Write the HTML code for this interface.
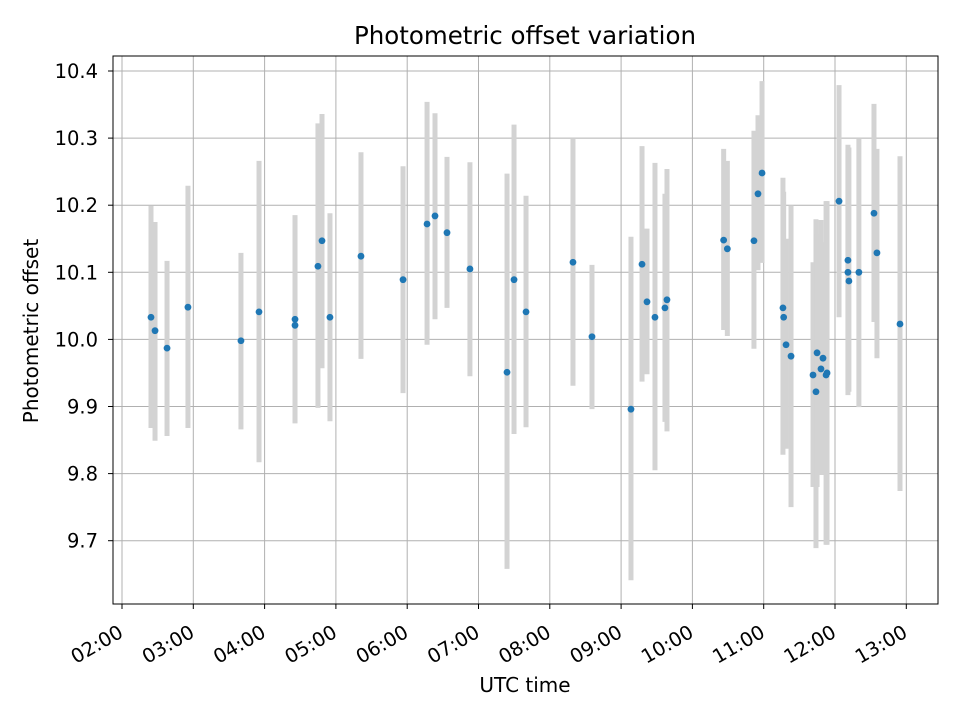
<!DOCTYPE html>
<html><head><meta charset="utf-8">
<style>
html,body{margin:0;padding:0;background:#fff;}
svg{display:block;font-family:"DejaVu Sans","Liberation Sans",sans-serif;}
</style></head>
<body>
<svg id="chart" width="960" height="720" viewBox="0 0 960 720">
  <rect x="0" y="0" width="960" height="720" fill="#fff"/>
  <g id="grid"></g>
  <g id="bars"></g>
  <g id="pts"></g>
  <rect x="113" y="56" width="825" height="548" fill="none" stroke="#000" stroke-width="1"/>
  <g id="xt"></g>
  <g id="yt"></g>
  <text x="525" y="44" text-anchor="middle" font-size="24.5">Photometric offset variation</text>
  <text x="525" y="692" text-anchor="middle" font-size="20">UTC time</text>
  <text x="0" y="0" transform="translate(38,331) rotate(-90)" text-anchor="middle" font-size="20">Photometric offset</text>
</svg>
<script>
const times = ["02:24.4","02:27.8","02:37.9","02:55.5","03:40.1","03:55.3","04:25.6","04:25.6","04:44.9","04:48.3","04:55.0","05:21.1",
"05:56.5","06:16.7","06:23.4","06:33.5","06:52.8","07:24.0","07:29.9","07:40.0","08:19.5","08:35.5","09:08.3","09:17.6","09:21.8","09:28.5","09:36.9","09:38.6",
"10:26.3","10:29.4","10:51.8","10:55.2","10:58.6","11:16.2","11:16.8","11:18.8","11:23.0","11:41.5","11:44.0","11:44.9","11:49.9","11:48.2","11:53.3","11:52.5",
"12:03.4","12:10.9","12:10.9","12:11.7","12:20.1","12:32.8","12:35.3","12:54.7"];
const values = [10.033,10.013,9.987,10.048,9.998,10.041,10.030,10.021,10.109,10.147,10.033,10.124,
10.089,10.172,10.184,10.159,10.105,9.951,10.089,10.041,10.115,10.004,9.896,10.112,10.056,10.033,10.047,10.059,
10.148,10.135,10.147,10.217,10.248,10.047,10.033,9.992,9.975,9.947,9.922,9.980,9.972,9.956,9.950,9.947,
10.206,10.118,10.100,10.087,10.100,10.188,10.129,10.023];
const upper = [10.199,10.175,10.117,10.229,10.129,10.266,10.185,10.185,10.322,10.336,10.188,10.279,
10.258,10.354,10.337,10.272,10.264,10.247,10.320,10.214,10.300,10.111,10.153,10.288,10.165,10.263,10.217,10.254,
10.284,10.266,10.311,10.334,10.385,10.241,10.220,10.150,10.200,10.115,10.179,10.157,10.145,10.178,10.206,10.206,
10.379,10.290,10.283,10.286,10.300,10.351,10.284,10.273];
const lower = [9.868,9.849,9.856,9.868,9.866,9.817,9.875,9.875,9.898,9.957,9.878,9.971,
9.920,9.992,10.030,10.047,9.945,9.658,9.859,9.869,9.931,9.896,9.641,9.937,9.948,9.805,9.877,9.863,
10.014,10.005,9.986,10.103,10.114,9.828,9.874,9.837,9.750,9.780,9.689,9.780,9.798,9.798,9.694,9.694,
10.033,9.917,9.925,9.922,9.899,10.026,9.972,9.774];
const xTickLabels = ["02:00","03:00","04:00","05:00","06:00","07:00","08:00","09:00","10:00","11:00","12:00","13:00"];
const yTickLabels = ["9.7","9.8","9.9","10.0","10.1","10.2","10.3","10.4"];

const NS = "http://www.w3.org/2000/svg";
function toMin(s){const p=s.split(":");return (+p[0])*60+parseFloat(p[1]);}
function xScale(m){return 122 + (m-120)/60*71.3;}
function yScale(v){return 71 + (10.4 - v)*671;}
function mk(tag, attrs, parent){const e=document.createElementNS(NS,tag);for(const k in attrs)e.setAttribute(k,attrs[k]);parent.appendChild(e);return e;}

const grid=document.getElementById('grid'), xt=document.getElementById('xt'), yt=document.getElementById('yt');
xTickLabels.forEach(function(l){
  const x=xScale(toMin(l));
  const g=mk('line',{x1:x,x2:x,y1:56,y2:604,stroke:'#b0b0b0','stroke-width':1},grid);
  
  
  const t=mk('line',{x1:x,x2:x,y1:604,y2:609,stroke:'#000','stroke-width':1},xt);
  
  
  const tx=mk('text',{transform:'translate('+(x+2.5)+',636) rotate(-30)','text-anchor':'end','font-size':19.5,x:0,y:0},xt);
  tx.textContent=l;
  
  
});
yTickLabels.forEach(function(l){
  const y=yScale(parseFloat(l));
  const g=mk('line',{x1:113,x2:938,y1:y,y2:y,stroke:'#b0b0b0','stroke-width':1},grid);
  
  
  const t=mk('line',{x1:108,x2:113,y1:y,y2:y,stroke:'#000','stroke-width':1},yt);
  
  
  const tx=mk('text',{x:98,y:y+7,'text-anchor':'end','font-size':19.5},yt);
  tx.textContent=l;
  
  
});
const bars=document.getElementById('bars'), pts=document.getElementById('pts');
times.forEach(function(t,i){
  const x=xScale(toMin(t));
  const b=mk('line',{x1:x,x2:x,y1:yScale(upper[i]),y2:yScale(lower[i]),stroke:'#d3d3d3','stroke-width':5},bars);
  
  
});
times.forEach(function(t,i){
  const c=mk('circle',{cx:xScale(toMin(t)),cy:yScale(values[i]),r:3.4,fill:'#1f77b4'},pts);
  
  
});
</script>
</body></html>
